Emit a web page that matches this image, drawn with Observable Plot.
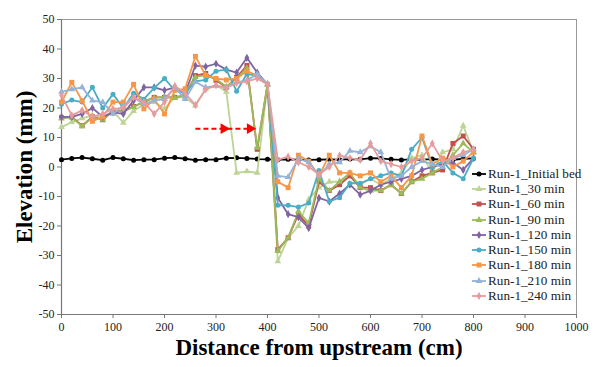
<!DOCTYPE html>
<html><head><meta charset="utf-8">
<script src="https://cdn.jsdelivr.net/npm/d3@7"></script>
<script src="https://cdn.jsdelivr.net/npm/@observablehq/plot@0.6"></script>
<style>
body{margin:0;background:#fff;}
#wrap{position:relative;width:598px;height:367px;}
#legend{position:absolute;left:471px;top:166px;font-family:'Liberation Serif','Times New Roman',serif;font-size:13.2px;color:#222;}
.row{height:15.3px;display:flex;align-items:center;white-space:nowrap;}
.row svg{margin-right:1px;}
svg text{font-family:'Liberation Serif','Times New Roman',serif;}
</style></head><body><div id="wrap"></div>
<script>
const distance = [0,20,40,60,80,100,120,140,160,180,200,220,240,260,280,300,320,340,360,380,400,420,440,460,480,500,520,540,560,580,600,620,640,660,680,700,720,740,760,780,800];

const initialBed = [2.5,2.9,3.2,2.8,2.3,3.2,2.8,2.3,2.5,2.5,3.0,3.2,2.8,2.3,2.5,2.5,3.0,3.1,2.9,2.7,2.6,2.5,2.6,2.5,2.4,2.5,2.6,2.5,2.7,2.6,3.0,2.9,2.6,2.4,2.6,2.5,2.7,2.6,2.4,2.8,2.9];
const min30 = [13.5,15.2,16.5,17.5,16.5,19,15,19,21.3,22,19.7,23.6,23.6,20.8,26.5,27.7,25.5,-2,-1.5,-2,28,-32,-24,-20,-11,-7,-5,-5,-3,-6,-4,-6,-4,-2,3,4,-2,5,6,14,5];
const min60 = [16.7,17,14,17,16,19,19,20.5,22,23.6,23.6,23.6,24.3,31,31.7,29.4,27,30.4,34.4,6,28,-28,-24,-16,-20,-5,-8,-6,-3,-7,-7,-8,-6,-9,-5,-3,-2,-1,8,10.5,6];
const min90 = [16.5,16.8,13.8,16.8,16,19.2,18.8,20.3,22.3,23.4,23.8,23.4,24.5,30.5,31.2,29.8,27.2,30,33.5,6.5,28,-28.5,-24,-15,-19,-4,-8,-5,-2,-7,-8,-8,-6,-9,-5,-4,-2,0,4,8,5];
const min120 = [17,17,18,20,17,18.5,18,22.5,27,27,26,27,25,34.4,34,35,33,32,37,32,28,-10.4,-16,-17,-20.7,-10.5,-11.7,-9,-6,-9.4,-8,-6,-5,-4,-3,-1,0,1,1.5,-1,3];
const min150 = [21.3,22.7,22,27,20,24.7,20,25,23,26.8,30,26,25,29,29.5,32.5,33,25.7,31.5,31,28,-13,-13,-13.6,-12.2,-1.2,-11.7,-10.4,-5.5,-5.5,-4,-3,-2,-3,6,10,0,2,-2,-4,3];
const min180 = [22,28.7,22.5,15.5,17,22,22,28,19.7,23,18,26,26.5,37.5,31,30,29.5,30,32.5,31,28,-5,-7,4,2,-3,4,-2,-2,-3,-2,-5,-3,-7,-3,10.5,1,3,0,2,5];
const min210 = [25.5,26.3,27,22.5,22,18,20.8,23.6,21.3,22.5,23,27,23,28.8,27,27.5,27,28.8,29.3,31.5,28,-3,-3.4,2.8,1.6,-3,1,1.6,5.5,5,7,5,-4,-3,0,2,1,0,3,4,6];
const min240 = [24.3,17.5,19.2,17,18,19.7,20,23.6,22,18,22,27.5,25,21,26.3,27.7,26.8,28.5,29,30,28,2.4,3.5,1.6,0,-2.5,0,3.9,3,2.4,8,2,1,0,2,3,8,2,3,5,6];

const seriesNames = ["Run-1_Initial bed","Run-1_30 min","Run-1_60 min","Run-1_90 min","Run-1_120 min","Run-1_150 min","Run-1_180 min","Run-1_210 min","Run-1_240 min"];
const seriesValues = [initialBed,min30,min60,min90,min120,min150,min180,min210,min240];
const seriesColors = ["#000000","#bcd494","#c0504d","#9bbb59","#8064a2","#4bacc6","#f79646","#95b3d7","#e69c9c"];
const seriesSymbols = ["circle","triangle","square","triangle","diamond","circle","square","triangle","diamond"];

const xTicks = [0,100,200,300,400,500,600,700,800,900,1000];
const yTicks = [-50,-40,-30,-20,-10,0,10,20,30,40,50];

// red dashed arrow annotation (data coordinates)
const arrowStartX = [260];
const arrowEndX = [368];
const arrowHeadX = [315, 366];
const arrowY = 13;

const rows = [];
seriesNames.forEach((name, s) => {
  distance.forEach((d, i) => rows.push({series: name, s, x: d, y: seriesValues[s][i]}));
});

const font = "'Liberation Serif','Times New Roman',serif";
const marks = [
  Plot.frame({stroke: "#9a9a9a"}),
  Plot.axisX({ticks: xTicks, tickFormat: d => String(d), tickSize: 4, tickPadding: 4, stroke: "#777", fontSize: 12, label: null}),
  Plot.axisY({ticks: yTicks, tickFormat: d => String(d), tickSize: 4, tickPadding: 3, stroke: "#777", fontSize: 12, label: null}),
  Plot.ruleX([0], {stroke: "#777", strokeWidth: 1.2}),
  Plot.ruleY([-50], {stroke: "#777", strokeWidth: 1.2})
];
seriesNames.forEach((name, s) => {
  const data = rows.filter(r => r.s === s);
  marks.push(Plot.line(data, {x: "x", y: "y", stroke: seriesColors[s], strokeWidth: 1.8}));
  marks.push(Plot.dot(data, {x: "x", y: "y", fill: seriesColors[s], stroke: "none", symbol: seriesSymbols[s], r: seriesSymbols[s] === "square" ? 2.8 : 2.5}));
});
marks.push(Plot.link([0], {x1: () => arrowStartX[0], x2: () => arrowEndX[0], y1: () => arrowY, y2: () => arrowY, stroke: "#ff0000", strokeWidth: 2, strokeDasharray: "5,3"}));
marks.push(Plot.dot(arrowHeadX, {x: d => d, y: () => arrowY, symbol: "triangle", rotate: 90, fill: "#ff0000", stroke: "none", r: 4}));
marks.push(Plot.text(["Distance from upstream (cm)"], {frameAnchor: "bottom", textAnchor: "middle", dy: 40, fontSize: 23, fontWeight: "bold", fill: "#000", fontFamily: font}));
marks.push(Plot.text(["Elevation (mm)"], {frameAnchor: "left", textAnchor: "middle", dx: -37, rotate: -90, fontSize: 23, fontWeight: "bold", fill: "#000", fontFamily: font}));

const chart = Plot.plot({
  width: 598, height: 367,
  marginLeft: 61, marginRight: 22, marginTop: 19, marginBottom: 53,
  x: {domain: [0, 1000]},
  y: {domain: [-50, 50]},
  style: {fontFamily: font, color: "#222", background: "#fff"},
  marks
});
const wrap = document.getElementById("wrap");
wrap.appendChild(chart);

// legend
const legend = document.createElement("div");
legend.id = "legend";
seriesNames.forEach((name, s) => {
  const row = document.createElement("div");
  row.className = "row";
  const svg = d3.create("svg").attr("width", 16).attr("height", 10);
  svg.append("line").attr("x1", 1).attr("x2", 15).attr("y1", 5).attr("y2", 5).attr("stroke", seriesColors[s]).attr("stroke-width", 1.8);
  const symMap = {circle: d3.symbolCircle, square: d3.symbolSquare, triangle: d3.symbolTriangle, diamond: d3.symbolDiamond};
  const sz = seriesSymbols[s] === "square" ? 2.8 : 2.5;
  svg.append("path").attr("d", d3.symbol(symMap[seriesSymbols[s]], sz * sz * Math.PI)()).attr("transform", "translate(8,5)").attr("fill", seriesColors[s]);
  row.appendChild(svg.node());
  const t = document.createElement("span");
  t.textContent = name;
  row.appendChild(t);
  legend.appendChild(row);
});
wrap.appendChild(legend);
</script></body></html>
